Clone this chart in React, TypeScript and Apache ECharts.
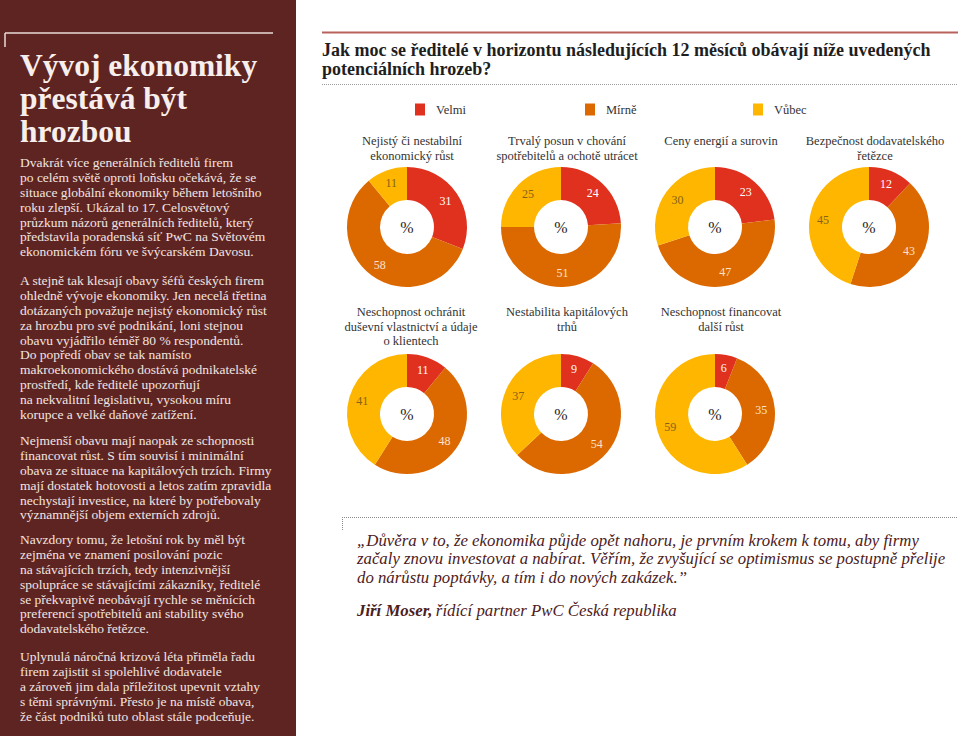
import React, { useEffect, useRef } from "react";
import * as echarts from "echarts";

const FONT = '"Liberation Serif", "DejaVu Serif", serif';

// ---- data ----
const levels = ["Velmi", "Mírně", "Vůbec"];
const categories = [
  "Nejistý či nestabilní\nekonomický růst",
  "Trvalý posun v chování\nspotřebitelů a ochotě utrácet",
  "Ceny energií a surovin",
  "Bezpečnost dodavatelského\nřetězce",
  "Neschopnost ochránit\nduševní vlastnictví a údaje\no klientech",
  "Nestabilita kapitálových\ntrhů",
  "Neschopnost financovat\ndalší růst",
];
const velmi = [31, 24, 23, 12, 11, 9, 6];
const mirne = [58, 51, 47, 43, 48, 54, 35];
const vubec = [11, 25, 30, 45, 41, 37, 59];

const panelTitle = "Vývoj ekonomiky\npřestává být\nhrozbou";
const paragraphs = [
  [
    "Dvakrát více generálních ředitelů firem",
    "po celém světě oproti loňsku očekává, že se",
    "situace globální ekonomiky během letošního",
    "roku zlepší. Ukázal to 17. Celosvětový",
    "průzkum názorů generálních ředitelů, který",
    "představila poradenská síť PwC na Světovém",
    "ekonomickém fóru ve švýcarském Davosu.",
  ],
  [
    "A stejně tak klesají obavy šéfů českých firem",
    "ohledně vývoje ekonomiky. Jen necelá třetina",
    "dotázaných považuje nejistý ekonomický růst",
    "za hrozbu pro své podnikání, loni stejnou",
    "obavu vyjádřilo téměř 80 % respondentů.",
    "Do popředí obav se tak namísto",
    "makroekonomického dostává podnikatelské",
    "prostředí, kde ředitelé upozorňují",
    "na nekvalitní legislativu, vysokou míru",
    "korupce a velké daňové zatížení.",
  ],
  [
    "Nejmenší obavu mají naopak ze schopnosti",
    "financovat růst. S tím souvisí i minimální",
    "obava ze situace na kapitálových trzích. Firmy",
    "mají dostatek hotovosti a letos zatím zpravidla",
    "nechystají investice, na které by potřebovaly",
    "významnější objem externích zdrojů.",
  ],
  [
    "Navzdory tomu, že letošní rok by měl být",
    "zejména ve znamení posilování pozic",
    "na stávajících trzích, tedy intenzivnější",
    "spolupráce se stávajícími zákazníky, ředitelé",
    "se překvapivě neobávají rychle se měnících",
    "preferencí spotřebitelů ani stability svého",
    "dodavatelského řetězce.",
  ],
  [
    "Uplynulá náročná krizová léta přiměla řadu",
    "firem zajistit si spolehlivé dodavatele",
    "a zároveň jim dala příležitost upevnit vztahy",
    "s těmi správnými. Přesto je na místě obava,",
    "že část podniků tuto oblast stále podceňuje.",
  ],
];
const mainTitle =
  "Jak moc se ředitelé v horizontu následujících 12 měsíců obávají níže uvedených\npotenciálních hrozeb?";
const quote =
  "„Důvěra v to, že ekonomika půjde opět nahoru, je prvním krokem k tomu, aby firmy\nzačaly znovu investovat a nabírat. Věřím, že zvyšující se optimismus se postupně přelije\ndo nárůstu poptávky, a tím i do nových zakázek.”";
const author = "Jiří Moser,";
const authorRole = "řídící partner PwC Česká republika";

// ---- styles / layout ----
const COLORS = ["#e0301e", "#dc6900", "#ffb600"];
const LABEL_COLORS = ["#ffffff", "#fbe2cc", "#85621a"];
const PANEL = "#5e2421";
const donutX = [407, 561, 715, 869, 407, 561, 715];
const donutY = [227, 227, 227, 227, 414, 414, 414];
const titleX = [412, 567, 721, 875, 411, 567, 721];
const titleTop = [134, 134, 134, 134, 305, 305, 305];
const paraTop = [155.5, 273.5, 433.5, 532.5, 649.5];
const legendX = [410, 580, 748];

export default function App() {
  const ref = useRef<HTMLDivElement>(null);
  useEffect(() => {
    const chart = echarts.init(ref.current as HTMLDivElement, null, {
      renderer: "svg",
      width: 960,
      height: 736,
    });

    const series = categories.map((c, i) => ({
      type: "pie",
      name: c,
      center: [donutX[i], donutY[i]],
      radius: [27, 60],
      startAngle: 90,
      clockwise: true,
      silent: true,
      avoidLabelOverlap: false,
      labelLine: { show: false },
      emphasis: { disabled: true },
      label: {
        show: true,
        position: "inside",
        formatter: "{c}",
        fontFamily: FONT,
        fontSize: 12,
      },
      data: [velmi[i], mirne[i], vubec[i]].map((v, k) => ({
        name: levels[k],
        value: v,
        itemStyle: { color: COLORS[k] },
        label: { color: LABEL_COLORS[k] },
      })),
    }));

    const graphic: any[] = [
      { type: "rect", shape: { x: 0, y: 0, width: 296, height: 736 }, style: { fill: PANEL }, silent: true },
      { type: "line", shape: { x1: 5, y1: 33, x2: 273, y2: 33 }, style: { stroke: "#eadbd8", lineWidth: 1.5 } },
      { type: "line", shape: { x1: 5, y1: 33, x2: 5, y2: 47 }, style: { stroke: "#eadbd8", lineWidth: 1.5 } },
      {
        type: "text",
        x: 20,
        y: 48.5,
        style: {
          text: panelTitle,
          fontFamily: FONT,
          fontWeight: "bold",
          fontSize: 31.5,
          lineHeight: 33,
          fill: "#f8efed",
          verticalAlign: "top",
        },
      },
      ...paragraphs.map((p, i) => ({
        type: "text",
        x: 20,
        y: paraTop[i],
        style: {
          text: p.join("\n"),
          fontFamily: FONT,
          fontSize: 13.5,
          lineHeight: 14.8,
          fill: "#f2e4e1",
          verticalAlign: "top",
        },
      })),
      { type: "line", shape: { x1: 322, y1: 32.5, x2: 958, y2: 32.5 }, style: { stroke: "#b8625c", lineWidth: 2 } },
      {
        type: "text",
        x: 322,
        y: 40.5,
        style: {
          text: mainTitle,
          fontFamily: FONT,
          fontWeight: "bold",
          fontSize: 18,
          lineHeight: 19,
          fill: "#1e1e1e",
          verticalAlign: "top",
        },
      },
      {
        type: "line",
        shape: { x1: 322, y1: 84.5, x2: 958, y2: 84.5 },
        style: { stroke: "#9a9a9a", lineWidth: 1, lineDash: [1, 1] },
      },
      ...categories.map((c, i) => ({
        type: "text",
        x: titleX[i],
        y: titleTop[i],
        style: {
          text: c,
          fontFamily: FONT,
          fontSize: 12.5,
          lineHeight: 14.5,
          fill: "#333333",
          align: "center",
          verticalAlign: "top",
        },
      })),
      ...categories.map((c, i) => ({
        type: "text",
        x: donutX[i],
        y: donutY[i],
        style: {
          text: "%",
          fontFamily: FONT,
          fontSize: 16,
          fill: "#1e1e1e",
          align: "center",
          verticalAlign: "middle",
        },
      })),
      {
        type: "line",
        shape: { x1: 342, y1: 517.5, x2: 958, y2: 517.5 },
        style: { stroke: "#8a8a8a", lineWidth: 1, lineDash: [1, 1] },
      },
      {
        type: "line",
        shape: { x1: 342.5, y1: 517, x2: 342.5, y2: 531 },
        style: { stroke: "#8a8a8a", lineWidth: 1, lineDash: [1, 1] },
      },
      {
        type: "text",
        x: 357,
        y: 530.75,
        style: {
          text: quote,
          fontFamily: FONT,
          fontStyle: "italic",
          fontSize: 16.8,
          lineHeight: 18.5,
          fill: "#4c201c",
          verticalAlign: "top",
        },
      },
      {
        type: "text",
        x: 357,
        y: 610,
        style: {
          text: "{b|" + author + "} {i|" + authorRole + "}",
          verticalAlign: "middle",
          rich: {
            b: { fontFamily: FONT, fontStyle: "italic", fontWeight: "bold", fontSize: 16.8, fill: "#4c201c", color: "#4c201c" },
            i: { fontFamily: FONT, fontStyle: "italic", fontSize: 16.8, fill: "#4c201c", color: "#4c201c" },
          },
        },
      },
    ];

    chart.setOption({
      animation: false,
      backgroundColor: "#ffffff",
      color: COLORS,
      legend: levels.map((n, i) => ({
        data: [n],
        left: legendX[i],
        top: 98,
        icon: "rect",
        itemWidth: 10,
        itemHeight: 12,
        selectedMode: false,
        textStyle: { fontFamily: FONT, fontSize: 12.5, color: "#333333", padding: [0, 0, 0, 6] },
      })),
      series,
      graphic,
    });

    return () => chart.dispose();
  }, []);

  return (
    <div
      ref={ref}
      style={{ position: "absolute", left: 0, top: 0, width: 960, height: 736 }}
    />
  );
}
